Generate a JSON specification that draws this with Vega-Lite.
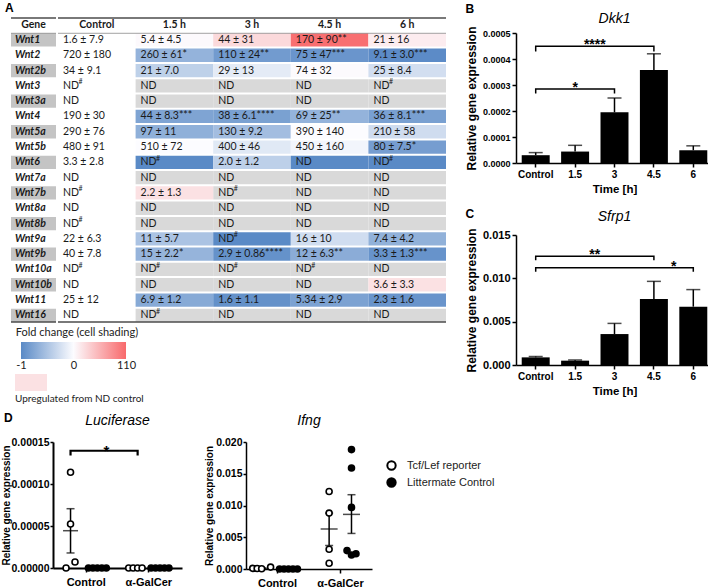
{
"$schema": "https://vega.github.io/schema/vega-lite/v6.json",
"background": "white",
"padding": {"left": 0, "top": 0, "right": 0, "bottom": 0},
"datasets": {
"table": [
{"r":"hdr","c":"Gene","t":"Gene","s":"h"},
{"r":"hdr","c":"Control","t":"Control","s":"h"},
{"r":"hdr","c":"1.5 h","t":"1.5 h","s":"h"},
{"r":"hdr","c":"3 h","t":"3 h","s":"h"},
{"r":"hdr","c":"4.5 h","t":"4.5 h","s":"h"},
{"r":"hdr","c":"6 h","t":"6 h","s":"h"},
{"r":"Wnt1","c":"Gene","t":"Wnt1","s":"g"},
{"r":"Wnt1","c":"Control","t":"1.6 ± 7.9","s":"none"},
{"r":"Wnt1","c":"1.5 h","t":"5.4 ± 4.5","s":"fc","f":2.38},
{"r":"Wnt1","c":"3 h","t":"44 ± 31","s":"fc","f":26.5},
{"r":"Wnt1","c":"4.5 h","t":"170 ± 90**","s":"fc","f":105.3},
{"r":"Wnt1","c":"6 h","t":"21 ± 16","s":"fc","f":12.1},
{"r":"Wnt2","c":"Gene","t":"Wnt2","s":"w"},
{"r":"Wnt2","c":"Control","t":"720 ± 180","s":"none"},
{"r":"Wnt2","c":"1.5 h","t":"260 ± 61*","s":"fc","f":-0.64},
{"r":"Wnt2","c":"3 h","t":"110 ± 24**","s":"fc","f":-0.85},
{"r":"Wnt2","c":"4.5 h","t":"75 ± 47***","s":"fc","f":-0.9},
{"r":"Wnt2","c":"6 h","t":"9.1 ± 3.0***","s":"fc","f":-0.99},
{"r":"Wnt2b","c":"Gene","t":"Wnt2b","s":"g"},
{"r":"Wnt2b","c":"Control","t":"34 ± 9.1","s":"none"},
{"r":"Wnt2b","c":"1.5 h","t":"21 ± 7.0","s":"fc","f":-0.38},
{"r":"Wnt2b","c":"3 h","t":"29 ± 13","s":"fc","f":-0.15},
{"r":"Wnt2b","c":"4.5 h","t":"74 ± 32","s":"fc","f":1.18},
{"r":"Wnt2b","c":"6 h","t":"25 ± 8.4","s":"fc","f":-0.26},
{"r":"Wnt3","c":"Gene","t":"Wnt3","s":"w"},
{"r":"Wnt3","c":"Control","t":"ND","n":"#","s":"none"},
{"r":"Wnt3","c":"1.5 h","t":"ND","s":"nd"},
{"r":"Wnt3","c":"3 h","t":"ND","s":"nd"},
{"r":"Wnt3","c":"4.5 h","t":"ND","s":"nd"},
{"r":"Wnt3","c":"6 h","t":"ND","n":"#","s":"nd"},
{"r":"Wnt3a","c":"Gene","t":"Wnt3a","s":"g"},
{"r":"Wnt3a","c":"Control","t":"ND","s":"none"},
{"r":"Wnt3a","c":"1.5 h","t":"ND","s":"nd"},
{"r":"Wnt3a","c":"3 h","t":"ND","s":"nd"},
{"r":"Wnt3a","c":"4.5 h","t":"ND","s":"nd"},
{"r":"Wnt3a","c":"6 h","t":"ND","s":"nd"},
{"r":"Wnt4","c":"Gene","t":"Wnt4","s":"w"},
{"r":"Wnt4","c":"Control","t":"190 ± 30","s":"none"},
{"r":"Wnt4","c":"1.5 h","t":"44 ± 8.3***","s":"fc","f":-0.77},
{"r":"Wnt4","c":"3 h","t":"38 ± 6.1****","s":"fc","f":-0.8},
{"r":"Wnt4","c":"4.5 h","t":"69 ± 25**","s":"fc","f":-0.64},
{"r":"Wnt4","c":"6 h","t":"36 ± 8.1***","s":"fc","f":-0.81},
{"r":"Wnt5a","c":"Gene","t":"Wnt5a","s":"g"},
{"r":"Wnt5a","c":"Control","t":"290 ± 76","s":"none"},
{"r":"Wnt5a","c":"1.5 h","t":"97 ± 11","s":"fc","f":-0.67},
{"r":"Wnt5a","c":"3 h","t":"130 ± 9.2","s":"fc","f":-0.55},
{"r":"Wnt5a","c":"4.5 h","t":"390 ± 140","s":"fc","f":0.34},
{"r":"Wnt5a","c":"6 h","t":"210 ± 58","s":"fc","f":-0.28},
{"r":"Wnt5b","c":"Gene","t":"Wnt5b","s":"w"},
{"r":"Wnt5b","c":"Control","t":"480 ± 91","s":"none"},
{"r":"Wnt5b","c":"1.5 h","t":"510 ± 72","s":"fc","f":0.06},
{"r":"Wnt5b","c":"3 h","t":"400 ± 46","s":"fc","f":-0.17},
{"r":"Wnt5b","c":"4.5 h","t":"450 ± 160","s":"fc","f":-0.06},
{"r":"Wnt5b","c":"6 h","t":"80 ± 7.5*","s":"fc","f":-0.83},
{"r":"Wnt6","c":"Gene","t":"Wnt6","s":"g"},
{"r":"Wnt6","c":"Control","t":"3.3 ± 2.8","s":"none"},
{"r":"Wnt6","c":"1.5 h","t":"ND","n":"#","s":"fc","f":-1},
{"r":"Wnt6","c":"3 h","t":"2.0 ± 1.2","s":"fc","f":-0.39},
{"r":"Wnt6","c":"4.5 h","t":"ND","s":"fc","f":-1},
{"r":"Wnt6","c":"6 h","t":"ND","n":"#","s":"fc","f":-1},
{"r":"Wnt7a","c":"Gene","t":"Wnt7a","s":"w"},
{"r":"Wnt7a","c":"Control","t":"ND","s":"none"},
{"r":"Wnt7a","c":"1.5 h","t":"ND","s":"nd"},
{"r":"Wnt7a","c":"3 h","t":"ND","s":"nd"},
{"r":"Wnt7a","c":"4.5 h","t":"ND","s":"nd"},
{"r":"Wnt7a","c":"6 h","t":"ND","s":"nd"},
{"r":"Wnt7b","c":"Gene","t":"Wnt7b","s":"g"},
{"r":"Wnt7b","c":"Control","t":"ND","n":"#","s":"none"},
{"r":"Wnt7b","c":"1.5 h","t":"2.2 ± 1.3","s":"up"},
{"r":"Wnt7b","c":"3 h","t":"ND","n":"#","s":"nd"},
{"r":"Wnt7b","c":"4.5 h","t":"ND","s":"nd"},
{"r":"Wnt7b","c":"6 h","t":"ND","s":"nd"},
{"r":"Wnt8a","c":"Gene","t":"Wnt8a","s":"w"},
{"r":"Wnt8a","c":"Control","t":"ND","s":"none"},
{"r":"Wnt8a","c":"1.5 h","t":"ND","s":"nd"},
{"r":"Wnt8a","c":"3 h","t":"ND","s":"nd"},
{"r":"Wnt8a","c":"4.5 h","t":"ND","s":"nd"},
{"r":"Wnt8a","c":"6 h","t":"ND","s":"nd"},
{"r":"Wnt8b","c":"Gene","t":"Wnt8b","s":"g"},
{"r":"Wnt8b","c":"Control","t":"ND","n":"#","s":"none"},
{"r":"Wnt8b","c":"1.5 h","t":"ND","s":"nd"},
{"r":"Wnt8b","c":"3 h","t":"ND","s":"nd"},
{"r":"Wnt8b","c":"4.5 h","t":"ND","s":"nd"},
{"r":"Wnt8b","c":"6 h","t":"ND","s":"nd"},
{"r":"Wnt9a","c":"Gene","t":"Wnt9a","s":"w"},
{"r":"Wnt9a","c":"Control","t":"22 ± 6.3","s":"none"},
{"r":"Wnt9a","c":"1.5 h","t":"11 ± 5.7","s":"fc","f":-0.5},
{"r":"Wnt9a","c":"3 h","t":"ND","n":"#","s":"fc","f":-1},
{"r":"Wnt9a","c":"4.5 h","t":"16 ± 10","s":"fc","f":-0.27},
{"r":"Wnt9a","c":"6 h","t":"7.4 ± 4.2","s":"fc","f":-0.66},
{"r":"Wnt9b","c":"Gene","t":"Wnt9b","s":"g"},
{"r":"Wnt9b","c":"Control","t":"40 ± 7.8","s":"none"},
{"r":"Wnt9b","c":"1.5 h","t":"15 ± 2.2*","s":"fc","f":-0.63},
{"r":"Wnt9b","c":"3 h","t":"2.9 ± 0.86****","s":"fc","f":-0.93},
{"r":"Wnt9b","c":"4.5 h","t":"12 ± 6.3**","s":"fc","f":-0.7},
{"r":"Wnt9b","c":"6 h","t":"3.3 ± 1.3***","s":"fc","f":-0.92},
{"r":"Wnt10a","c":"Gene","t":"Wnt10a","s":"w"},
{"r":"Wnt10a","c":"Control","t":"ND","n":"#","s":"none"},
{"r":"Wnt10a","c":"1.5 h","t":"ND","n":"#","s":"nd"},
{"r":"Wnt10a","c":"3 h","t":"ND","n":"#","s":"nd"},
{"r":"Wnt10a","c":"4.5 h","t":"ND","n":"#","s":"nd"},
{"r":"Wnt10a","c":"6 h","t":"ND","s":"nd"},
{"r":"Wnt10b","c":"Gene","t":"Wnt10b","s":"g"},
{"r":"Wnt10b","c":"Control","t":"ND","s":"none"},
{"r":"Wnt10b","c":"1.5 h","t":"ND","s":"nd"},
{"r":"Wnt10b","c":"3 h","t":"ND","s":"nd"},
{"r":"Wnt10b","c":"4.5 h","t":"ND","s":"nd"},
{"r":"Wnt10b","c":"6 h","t":"3.6 ± 3.3","s":"up"},
{"r":"Wnt11","c":"Gene","t":"Wnt11","s":"w"},
{"r":"Wnt11","c":"Control","t":"25 ± 12","s":"none"},
{"r":"Wnt11","c":"1.5 h","t":"6.9 ± 1.2","s":"fc","f":-0.72},
{"r":"Wnt11","c":"3 h","t":"1.6 ± 1.1","s":"fc","f":-0.94},
{"r":"Wnt11","c":"4.5 h","t":"5.34 ± 2.9","s":"fc","f":-0.79},
{"r":"Wnt11","c":"6 h","t":"2.3 ± 1.6","s":"fc","f":-0.91},
{"r":"Wnt16","c":"Gene","t":"Wnt16","s":"g"},
{"r":"Wnt16","c":"Control","t":"ND","s":"none"},
{"r":"Wnt16","c":"1.5 h","t":"ND","n":"#","s":"nd"},
{"r":"Wnt16","c":"3 h","t":"ND","s":"nd"},
{"r":"Wnt16","c":"4.5 h","t":"ND","s":"nd"},
{"r":"Wnt16","c":"6 h","t":"ND","s":"nd"}
],
"dkk1": [
{"t":"Control","m":0.00003,"hi":0.00004},
{"t":"1.5","m":0.000044,"hi":0.000068},
{"t":"3","m":0.000195,"hi":0.00025},
{"t":"4.5","m":0.000358,"hi":0.00042},
{"t":"6","m":0.000049,"hi":0.000066}
],
"brkB": [
{"id":1,"t":"Control","v":0.000429,"o":1},
{"id":1,"t":"Control","v":0.000449,"o":2},
{"id":1,"t":"4.5","v":0.000449,"o":3},
{"id":1,"t":"4.5","v":0.000429,"o":4},
{"id":2,"t":"Control","v":0.000267,"o":1},
{"id":2,"t":"Control","v":0.000285,"o":2},
{"id":2,"t":"3","v":0.000285,"o":3},
{"id":2,"t":"3","v":0.000267,"o":4}
],
"starB": [
{"t":"1.5","v":0.000449,"s":"****","p":"b"},
{"t":"1.5","v":0.000285,"s":"*","p":"o"}
],
"sfrp1": [
{"t":"Control","m":0.00088,"hi":0.00098},
{"t":"1.5","m":0.0005,"hi":0.00058},
{"t":"3","m":0.00357,"hi":0.0048},
{"t":"4.5","m":0.00762,"hi":0.00965},
{"t":"6","m":0.00673,"hi":0.0087}
],
"brkC": [
{"id":1,"t":"Control","v":0.0121,"o":1},
{"id":1,"t":"Control","v":0.01256,"o":2},
{"id":1,"t":"4.5","v":0.01256,"o":3},
{"id":1,"t":"4.5","v":0.0121,"o":4},
{"id":2,"t":"Control","v":0.01075,"o":1},
{"id":2,"t":"Control","v":0.01121,"o":2},
{"id":2,"t":"6","v":0.01121,"o":3},
{"id":2,"t":"6","v":0.01075,"o":4}
],
"starC": [
{"t":"1.5","v":0.01256,"s":"**","p":"b"},
{"t":"4.5","v":0.01121,"s":"*","p":"b"}
],
"luc": [
{"tr":"Control","g":"Tcf/Lef reporter","sl":"T2","v":0},
{"tr":"Control","g":"Tcf/Lef reporter","sl":"T4","v":0.0000072},
{"tr":"Control","g":"Tcf/Lef reporter","sl":"T3","v":0.0000524},
{"tr":"Control","g":"Tcf/Lef reporter","sl":"T3","v":0.000114},
{"tr":"Control","g":"Littermate Control","sl":"L1","v":0},
{"tr":"Control","g":"Littermate Control","sl":"L2","v":0},
{"tr":"Control","g":"Littermate Control","sl":"L3","v":0},
{"tr":"Control","g":"Littermate Control","sl":"L4","v":0},
{"tr":"Control","g":"Littermate Control","sl":"L5","v":0},
{"tr":"α-GalCer","g":"Tcf/Lef reporter","sl":"T2","v":0},
{"tr":"α-GalCer","g":"Tcf/Lef reporter","sl":"T3","v":0},
{"tr":"α-GalCer","g":"Tcf/Lef reporter","sl":"T4","v":0},
{"tr":"α-GalCer","g":"Tcf/Lef reporter","sl":"T5","v":0},
{"tr":"α-GalCer","g":"Littermate Control","sl":"L1","v":0},
{"tr":"α-GalCer","g":"Littermate Control","sl":"L2","v":0},
{"tr":"α-GalCer","g":"Littermate Control","sl":"L3","v":0},
{"tr":"α-GalCer","g":"Littermate Control","sl":"L4","v":0},
{"tr":"α-GalCer","g":"Littermate Control","sl":"L5","v":0}
],
"lucStat": [
{"tr":"Control","sl":"T3","mean":0.0000444,"lo":0.0000179,"hi":0.0000706},
{"tr":"Control","sl":"L3","mean":0,"lo":0,"hi":0},
{"tr":"α-GalCer","sl":"T3","mean":0,"lo":0,"hi":0},
{"tr":"α-GalCer","sl":"L3","mean":0,"lo":0,"hi":0}
],
"lucBrk": [
{"id":1,"tr":"Control","sl":"T3","v":0.000134,"o":1},
{"id":1,"tr":"Control","sl":"T3","v":0.0001396,"o":2},
{"id":1,"tr":"α-GalCer","sl":"T4","v":0.0001396,"o":3},
{"id":1,"tr":"α-GalCer","sl":"T4","v":0.000134,"o":4}
],
"lucStar": [
{"tr":"Control","sl":"L5","v":0.0001396,"s":"*"}
],
"ifng": [
{"tr":"Control","g":"Tcf/Lef reporter","sl":"T1","v":0.0001},
{"tr":"Control","g":"Tcf/Lef reporter","sl":"T2","v":0.00008},
{"tr":"Control","g":"Tcf/Lef reporter","sl":"T3","v":0.00005},
{"tr":"Control","g":"Tcf/Lef reporter","sl":"T5","v":0.0003},
{"tr":"Control","g":"Littermate Control","sl":"L1","v":0},
{"tr":"Control","g":"Littermate Control","sl":"L2","v":0},
{"tr":"Control","g":"Littermate Control","sl":"L3","v":0},
{"tr":"Control","g":"Littermate Control","sl":"L4","v":0},
{"tr":"Control","g":"Littermate Control","sl":"L5","v":0},
{"tr":"α-GalCer","g":"Tcf/Lef reporter","sl":"T4","v":0.0122},
{"tr":"α-GalCer","g":"Tcf/Lef reporter","sl":"T4","v":0.0088},
{"tr":"α-GalCer","g":"Tcf/Lef reporter","sl":"T4","v":0.0031},
{"tr":"α-GalCer","g":"Tcf/Lef reporter","sl":"T4","v":0.0009},
{"tr":"α-GalCer","g":"Littermate Control","sl":"L3","v":0.0188},
{"tr":"α-GalCer","g":"Littermate Control","sl":"L3","v":0.0159},
{"tr":"α-GalCer","g":"Littermate Control","sl":"L3","v":0.0097},
{"tr":"α-GalCer","g":"Littermate Control","sl":"L2","v":0.0029},
{"tr":"α-GalCer","g":"Littermate Control","sl":"L3","v":0.0022},
{"tr":"α-GalCer","g":"Littermate Control","sl":"L4","v":0.0024}
],
"ifngStat": [
{"tr":"Control","sl":"T3","mean":0.00011,"lo":0.00005,"hi":0.00017},
{"tr":"Control","sl":"L3","mean":0,"lo":0,"hi":0},
{"tr":"α-GalCer","sl":"T4","mean":0.0063,"lo":0.0037,"hi":0.0088},
{"tr":"α-GalCer","sl":"L3","mean":0.0086,"lo":0.0056,"hi":0.0117}
]
},
"columns": 1,
"spacing": 8,
"concat": [
{
"columns": 2,
"spacing": 18,
"concat": [
{
"columns": 1,
"spacing": 1,
"concat": [
{"width": 1, "height": 1, "data": {"values": []}, "mark": "point"},
{
"columns": 1,
"spacing": 4,
"concat": [
{
"title": {"text": "A", "anchor": "start", "fontSize": 12, "fontWeight": "bold", "offset": 2, "dx": 5},
"columns": 3,
"spacing": 0,
"concat": [
{"width": 10, "height": 1, "data": {"values": []}, "mark": "point"},
{
"width": 45, "height": 306,
"data": {"name": "table"},
"layer": [
{"transform": [{"filter": "datum.c == 'Gene' && datum.s == 'g'"}],
 "mark": {"type": "rect", "fill": "#c4c4c4"},
 "encoding": {
  "x": {"field": "c", "type": "nominal", "scale": {"domain": ["Gene"], "paddingInner": 0, "paddingOuter": 0}, "axis": null},
  "y": {"field": "r", "type": "nominal", "sort": null, "scale": {"domain": ["hdr","Wnt1","Wnt2","Wnt2b","Wnt3","Wnt3a","Wnt4","Wnt5a","Wnt5b","Wnt6","Wnt7a","Wnt7b","Wnt8a","Wnt8b","Wnt9a","Wnt9b","Wnt10a","Wnt10b","Wnt11","Wnt16"], "paddingInner": 0.13, "paddingOuter": 0.065}, "axis": null}}},
{"transform": [{"filter": "datum.c == 'Gene' && datum.s != 'h'"}],
 "mark": {"type": "text", "align": "left", "dx": 4, "font": "Lato", "fontSize": 10.5, "fontWeight": "bold", "fontStyle": "italic", "color": "#1a1a1a"},
 "encoding": {
  "x": {"field": "c", "type": "nominal", "bandPosition": 0, "axis": null},
  "y": {"field": "r", "type": "nominal", "sort": null, "axis": null},
  "text": {"field": "t"}}},
{"transform": [{"filter": "datum.c == 'Gene' && datum.s == 'h'"}],
 "mark": {"type": "text", "font": "Lato", "fontSize": 10.5, "fontWeight": "bold", "color": "#1a1a1a"},
 "encoding": {
  "x": {"field": "c", "type": "nominal", "axis": null},
  "y": {"field": "r", "type": "nominal", "sort": null, "axis": null},
  "text": {"field": "t"}}},
{"data": {"values": [{"k": 1}]}, "mark": {"type": "rule", "color": "#4d4d4d", "strokeWidth": 1.6},
 "encoding": {"y": {"datum": "hdr", "type": "nominal", "bandPosition": 0, "axis": null}}},
{"data": {"values": [{"k": 1}]}, "mark": {"type": "rule", "color": "#8a8a8a", "strokeWidth": 0.8},
 "encoding": {"y": {"datum": "Wnt1", "type": "nominal", "bandPosition": 0, "axis": null}}},
{"data": {"values": [{"k": 1}]}, "mark": {"type": "rule", "color": "#4d4d4d", "strokeWidth": 1.3},
 "encoding": {"y": {"datum": "Wnt16", "type": "nominal", "bandPosition": 1, "axis": null}}}
]
},
{
"width": 388, "height": 306,
"data": {"name": "table"},
"layer": [
{"transform": [{"filter": "datum.c != 'Gene' && datum.s == 'nd'"}],
 "mark": {"type": "rect", "fill": "#d9d9d9"},
 "encoding": {
  "x": {"field": "c", "type": "nominal", "sort": null, "scale": {"domain": ["Control","1.5 h","3 h","4.5 h","6 h"], "paddingInner": 0, "paddingOuter": 0}, "axis": null},
  "y": {"field": "r", "type": "nominal", "sort": null, "scale": {"domain": ["hdr","Wnt1","Wnt2","Wnt2b","Wnt3","Wnt3a","Wnt4","Wnt5a","Wnt5b","Wnt6","Wnt7a","Wnt7b","Wnt8a","Wnt8b","Wnt9a","Wnt9b","Wnt10a","Wnt10b","Wnt11","Wnt16"], "paddingInner": 0.13, "paddingOuter": 0.065}, "axis": null}}},
{"transform": [{"filter": "datum.c != 'Gene' && datum.s == 'up'"}],
 "mark": {"type": "rect", "fill": "#fbe1e3"},
 "encoding": {
  "x": {"field": "c", "type": "nominal", "sort": null, "axis": null},
  "y": {"field": "r", "type": "nominal", "sort": null, "axis": null}}},
{"transform": [{"filter": "datum.c != 'Gene' && datum.s == 'fc'"}],
 "mark": {"type": "rect"},
 "encoding": {
  "x": {"field": "c", "type": "nominal", "sort": null, "axis": null},
  "y": {"field": "r", "type": "nominal", "sort": null, "axis": null},
  "color": {"field": "f", "type": "quantitative", "scale": {"domain": [-1, 0, 110], "range": ["#5A8AC6", "#FCFCFF", "#F8696B"], "interpolate": "rgb"}, "legend": null}}},
{"transform": [{"filter": "datum.c != 'Gene' && datum.s != 'h'"}],
 "mark": {"type": "text", "align": "left", "dx": 5, "font": "Lato", "fontSize": 10.5, "color": "#1a1a1a"},
 "encoding": {
  "x": {"field": "c", "type": "nominal", "sort": null, "bandPosition": 0, "axis": null},
  "y": {"field": "r", "type": "nominal", "sort": null, "axis": null},
  "text": {"field": "t"}}},
{"transform": [{"filter": "datum.c != 'Gene' && datum.n == '#'"}],
 "mark": {"type": "text", "align": "left", "dx": 20.5, "dy": -3.5, "font": "Lato", "fontSize": 7, "color": "#1a1a1a"},
 "encoding": {
  "x": {"field": "c", "type": "nominal", "sort": null, "bandPosition": 0, "axis": null},
  "y": {"field": "r", "type": "nominal", "sort": null, "axis": null},
  "text": {"field": "n"}}},
{"transform": [{"filter": "datum.c != 'Gene' && datum.s == 'h'"}],
 "mark": {"type": "text", "font": "Lato", "fontSize": 10.5, "fontWeight": "bold", "color": "#1a1a1a"},
 "encoding": {
  "x": {"field": "c", "type": "nominal", "sort": null, "axis": null},
  "y": {"field": "r", "type": "nominal", "sort": null, "axis": null},
  "text": {"field": "t"}}},
{"data": {"values": [{"k": 1}]}, "mark": {"type": "rule", "color": "#4d4d4d", "strokeWidth": 1.6},
 "encoding": {"y": {"datum": "hdr", "type": "nominal", "bandPosition": 0, "axis": null}}},
{"data": {"values": [{"k": 1}]}, "mark": {"type": "rule", "color": "#8a8a8a", "strokeWidth": 0.8},
 "encoding": {"y": {"datum": "Wnt1", "type": "nominal", "bandPosition": 0, "axis": null}}},
{"data": {"values": [{"k": 1}]}, "mark": {"type": "rule", "color": "#4d4d4d", "strokeWidth": 1.3},
 "encoding": {"y": {"datum": "Wnt16", "type": "nominal", "bandPosition": 1, "axis": null}}}
]
}
]
},
{
"columns": 2,
"spacing": 0,
"concat": [
{"width": 15, "height": 1, "data": {"values": []}, "mark": "point"},
{
"title": {"text": "Fold change (cell shading)", "anchor": "start", "font": "Lato", "fontSize": 11, "fontWeight": "normal", "color": "#222222", "offset": 4},
"width": 105, "height": 17,
"data": {"values": [{"k": 1}]},
"mark": {"type": "rect", "fill": {"gradient": "linear", "stops": [{"offset": 0, "color": "#5A8AC6"}, {"offset": 0.5, "color": "#FCFCFF"}, {"offset": 1, "color": "#F8696B"}]}},
"encoding": {
 "x": {"datum": "-1", "type": "nominal", "scale": {"type": "point", "domain": ["-1", "0", "110"], "padding": 0}, "axis": {"domain": false, "ticks": false, "labelAngle": 0, "labelFont": "Lato", "labelFontSize": 11, "labelFontWeight": "normal", "labelColor": "#222222", "labelPadding": 0, "title": null}},
 "x2": {"datum": "110"}
}
}
]
},
{
"columns": 2,
"spacing": 0,
"concat": [
{"width": 15, "height": 1, "data": {"values": []}, "mark": "point"},
{
"title": {"text": "Upregulated from ND control", "orient": "bottom", "anchor": "start", "font": "Lato", "fontSize": 10, "fontWeight": "normal", "color": "#222222", "offset": 3},
"width": 32, "height": 17,
"data": {"values": [{"k": 1}]},
"mark": {"type": "rect", "fill": "#fbe1e3"},
"encoding": {
 "x": {"datum": 0, "type": "quantitative", "scale": {"domain": [0, 1]}, "axis": null},
 "x2": {"datum": 1}
}
}
]
}
]
}
]
},
{
"columns": 1,
"spacing": 1,
"concat": [
{"width": 1, "height": 1, "data": {"values": []}, "mark": "point"},
{
"columns": 1,
"spacing": 12,
"concat": [
{
"title": {"text": "B", "anchor": "start", "fontSize": 12, "fontWeight": "bold", "offset": -4},
"columns": 1,
"concat": [
{
"width": 197, "height": 130,
"title": {"text": "Dkk1", "fontStyle": "italic", "fontWeight": "normal", "fontSize": 14, "offset": 0},
"layer": [
{"data": {"name": "dkk1"}, "mark": {"type": "bar", "color": "black"},
 "encoding": {
  "x": {"field": "t", "type": "nominal", "sort": null, "scale": {"domain": ["Control","1.5","3","4.5","6"], "paddingInner": 0.29, "paddingOuter": 0.145}, "axis": {"title": "Time [h]", "labelAngle": 0, "labelFontSize": 10, "titleFontSize": 11.5}},
  "y": {"field": "m", "type": "quantitative", "scale": {"domain": [0, 0.0005], "nice": false}, "axis": {"title": "Relative gene expression", "values": [0, 0.0001, 0.0002, 0.0003, 0.0004, 0.0005], "format": ".4f", "labelFontSize": 9, "titleFontSize": 12, "labelOverlap": false}}}},
{"data": {"name": "dkk1"}, "mark": {"type": "rule", "color": "black", "strokeWidth": 1.5},
 "encoding": {"x": {"field": "t", "type": "nominal", "sort": null, "axis": {"title": "Time [h]", "labelAngle": 0, "labelFontSize": 10, "titleFontSize": 11.5}}, "y": {"field": "m", "type": "quantitative", "axis": {"title": "Relative gene expression", "values": [0, 0.0001, 0.0002, 0.0003, 0.0004, 0.0005], "format": ".4f", "labelFontSize": 9, "titleFontSize": 12, "labelOverlap": false}}, "y2": {"field": "hi"}}},
{"data": {"name": "dkk1"}, "mark": {"type": "tick", "color": "black", "thickness": 1.5, "size": 14},
 "encoding": {"x": {"field": "t", "type": "nominal", "sort": null, "axis": {"title": "Time [h]", "labelAngle": 0, "labelFontSize": 10, "titleFontSize": 11.5}}, "y": {"field": "hi", "type": "quantitative", "axis": {"title": "Relative gene expression", "values": [0, 0.0001, 0.0002, 0.0003, 0.0004, 0.0005], "format": ".4f", "labelFontSize": 9, "titleFontSize": 12, "labelOverlap": false}}}},
{"data": {"name": "brkB"}, "mark": {"type": "line", "color": "black", "strokeWidth": 1.5},
 "encoding": {"x": {"field": "t", "type": "nominal", "sort": null, "axis": {"title": "Time [h]", "labelAngle": 0, "labelFontSize": 10, "titleFontSize": 11.5}}, "y": {"field": "v", "type": "quantitative", "axis": {"title": "Relative gene expression", "values": [0, 0.0001, 0.0002, 0.0003, 0.0004, 0.0005], "format": ".4f", "labelFontSize": 9, "titleFontSize": 12, "labelOverlap": false}}, "detail": {"field": "id"}, "order": {"field": "o"}}},
{"data": {"name": "starB"}, "transform": [{"filter": "datum.p == 'o'"}], "mark": {"type": "text", "fontSize": 14, "fontWeight": "bold", "dy": 3, "baseline": "alphabetic", "color": "black"},
 "encoding": {"x": {"field": "t", "type": "nominal", "sort": null, "axis": {"title": "Time [h]", "labelAngle": 0, "labelFontSize": 10, "titleFontSize": 11.5}}, "y": {"field": "v", "type": "quantitative", "axis": {"title": "Relative gene expression", "values": [0, 0.0001, 0.0002, 0.0003, 0.0004, 0.0005], "format": ".4f", "labelFontSize": 9, "titleFontSize": 12, "labelOverlap": false}}, "text": {"field": "s"}}},
{"data": {"name": "starB"}, "transform": [{"filter": "datum.p == 'b'"}], "mark": {"type": "text", "fontSize": 14, "fontWeight": "bold", "dy": 3, "dx": 19.7, "baseline": "alphabetic", "color": "black"},
 "encoding": {"x": {"field": "t", "type": "nominal", "sort": null, "axis": {"title": "Time [h]", "labelAngle": 0, "labelFontSize": 10, "titleFontSize": 11.5}}, "y": {"field": "v", "type": "quantitative", "axis": {"title": "Relative gene expression", "values": [0, 0.0001, 0.0002, 0.0003, 0.0004, 0.0005], "format": ".4f", "labelFontSize": 9, "titleFontSize": 12, "labelOverlap": false}}, "text": {"field": "s"}}}
]
}
]
},
{
"title": {"text": "C", "anchor": "start", "fontSize": 12, "fontWeight": "bold", "offset": -11},
"columns": 1,
"concat": [
{
"width": 197, "height": 130,
"title": {"text": "Sfrp1", "fontStyle": "italic", "fontWeight": "normal", "fontSize": 14, "offset": 4},
"layer": [
{"data": {"name": "sfrp1"}, "mark": {"type": "bar", "color": "black"},
 "encoding": {
  "x": {"field": "t", "type": "nominal", "sort": null, "scale": {"domain": ["Control","1.5","3","4.5","6"], "paddingInner": 0.29, "paddingOuter": 0.145}, "axis": {"title": "Time [h]", "labelAngle": 0, "labelFontSize": 10, "titleFontSize": 11.5}},
  "y": {"field": "m", "type": "quantitative", "scale": {"domain": [0, 0.015], "nice": false}, "axis": {"title": "Relative gene expression", "values": [0, 0.005, 0.01, 0.015], "format": ".3f", "labelFontSize": 11, "titleFontSize": 12}}}},
{"data": {"name": "sfrp1"}, "mark": {"type": "rule", "color": "black", "strokeWidth": 1.5},
 "encoding": {"x": {"field": "t", "type": "nominal", "sort": null}, "y": {"field": "m", "type": "quantitative"}, "y2": {"field": "hi"}}},
{"data": {"name": "sfrp1"}, "mark": {"type": "tick", "color": "black", "thickness": 1.5, "size": 14},
 "encoding": {"x": {"field": "t", "type": "nominal", "sort": null}, "y": {"field": "hi", "type": "quantitative"}}},
{"data": {"name": "brkC"}, "mark": {"type": "line", "color": "black", "strokeWidth": 1.5},
 "encoding": {"x": {"field": "t", "type": "nominal", "sort": null}, "y": {"field": "v", "type": "quantitative"}, "detail": {"field": "id"}, "order": {"field": "o"}}},
{"data": {"name": "starC"}, "transform": [{"filter": "datum.p == 'b'"}], "mark": {"type": "text", "fontSize": 14, "fontWeight": "bold", "dy": 3, "dx": 19.7, "baseline": "alphabetic", "color": "black"},
 "encoding": {"x": {"field": "t", "type": "nominal", "sort": null}, "y": {"field": "v", "type": "quantitative"}, "text": {"field": "s"}}}
]
}
]
}
]
}
]
}
]
},
{
"columns": 2,
"spacing": 0,
"concat": [
{"width": 1, "height": 1, "data": {"values": []}, "mark": "point"},
{
"title": {"text": "D", "anchor": "start", "fontSize": 12, "fontWeight": "bold", "offset": -11, "dx": 3},
"columns": 2,
"spacing": 22,
"resolve": {"scale": {"fill": "independent"}, "legend": {"fill": "independent"}},
"concat": [
{
"width": 129, "height": 126,
"title": {"text": "Luciferase", "fontStyle": "italic", "fontWeight": "normal", "fontSize": 14, "offset": 9},
"layer": [
{"data": {"name": "lucBrk"}, "mark": {"type": "line", "color": "black", "strokeWidth": 2.2},
 "encoding": {
  "x": {"field": "tr", "type": "nominal", "sort": null, "scale": {"domain": ["Control", "α-GalCer"], "paddingInner": 0, "paddingOuter": 0.03}, "axis": {"title": null, "labelAngle": 0, "labelFontSize": 11, "labelPadding": 4, "domainWidth": 2}},
  "xOffset": {"field": "sl", "type": "nominal", "scale": {"domain": ["T1","T2","T3","T4","T5","G","L1","L2","L3","L4","L5","L6"], "paddingInner": 0, "paddingOuter": 1.5}},
  "y": {"field": "v", "type": "quantitative", "scale": {"domain": [0, 0.00015], "nice": false}, "axis": {"title": "Relative gene expression", "titleFontSize": 10, "titlePadding": 0, "labelPadding": 1, "tickSize": 3, "values": [0, 0.00005, 0.0001, 0.00015], "format": ".5f", "labelFontSize": 10.5, "domainWidth": 2}},
  "detail": {"field": "id"}, "order": {"field": "o"}}},
{"data": {"name": "lucStar"}, "mark": {"type": "text", "fontSize": 15, "fontWeight": "bold", "dy": 5, "baseline": "alphabetic", "color": "black"},
 "encoding": {"x": {"field": "tr", "type": "nominal", "sort": null}, "xOffset": {"field": "sl", "type": "nominal"}, "y": {"field": "v", "type": "quantitative"}, "text": {"field": "s"}}},
{"data": {"name": "lucStat"}, "mark": {"type": "rule", "color": "black", "strokeWidth": 1.5},
 "encoding": {"x": {"field": "tr", "type": "nominal", "sort": null}, "xOffset": {"field": "sl", "type": "nominal"}, "y": {"field": "lo", "type": "quantitative"}, "y2": {"field": "hi"}}},
{"data": {"name": "lucStat"}, "mark": {"type": "tick", "color": "black", "thickness": 1.5, "size": 8},
 "encoding": {"x": {"field": "tr", "type": "nominal", "sort": null}, "xOffset": {"field": "sl", "type": "nominal"}, "y": {"field": "lo", "type": "quantitative"}}},
{"data": {"name": "lucStat"}, "mark": {"type": "tick", "color": "black", "thickness": 1.5, "size": 8},
 "encoding": {"x": {"field": "tr", "type": "nominal", "sort": null}, "xOffset": {"field": "sl", "type": "nominal"}, "y": {"field": "hi", "type": "quantitative"}}},
{"data": {"name": "lucStat"}, "mark": {"type": "tick", "color": "black", "thickness": 1.5, "size": 15},
 "encoding": {"x": {"field": "tr", "type": "nominal", "sort": null}, "xOffset": {"field": "sl", "type": "nominal"}, "y": {"field": "mean", "type": "quantitative"}}},
{"data": {"name": "luc"}, "mark": {"type": "point", "shape": "circle", "filled": true, "stroke": "black", "strokeWidth": 1.6, "size": 36, "opacity": 1},
 "encoding": {"x": {"field": "tr", "type": "nominal", "sort": null}, "xOffset": {"field": "sl", "type": "nominal"}, "y": {"field": "v", "type": "quantitative"},
  "fill": {"field": "g", "type": "nominal", "scale": {"domain": ["Tcf/Lef reporter", "Littermate Control"], "range": ["white", "black"]}, "legend": null}}}
]
},
{
"width": 126, "height": 127,
"title": {"text": "Ifng", "fontStyle": "italic", "fontWeight": "normal", "fontSize": 14, "offset": 9},
"layer": [
{"data": {"name": "ifngStat"}, "mark": {"type": "rule", "color": "black", "strokeWidth": 1.5},
 "encoding": {
  "x": {"field": "tr", "type": "nominal", "sort": null, "scale": {"domain": ["Control", "α-GalCer"], "paddingInner": 0, "paddingOuter": 0}, "axis": {"title": null, "labelAngle": 0, "labelFontSize": 11, "labelPadding": 4}},
  "xOffset": {"field": "sl", "type": "nominal", "scale": {"domain": ["T1","T2","T3","T4","T5","G","L1","L2","L3","L4","L5","L6"], "paddingInner": 0, "paddingOuter": 1.5}},
  "y": {"field": "lo", "type": "quantitative", "scale": {"domain": [0, 0.02], "nice": false}, "axis": {"title": "Relative gene expression", "titleFontSize": 10, "titlePadding": 1, "labelPadding": 1, "tickSize": 3, "values": [0, 0.005, 0.01, 0.015, 0.02], "format": ".3f", "labelFontSize": 10.5, "labelOverlap": false}},
  "y2": {"field": "hi"}}},
{"data": {"name": "ifngStat"}, "mark": {"type": "tick", "color": "black", "thickness": 1.5, "size": 8},
 "encoding": {"x": {"field": "tr", "type": "nominal", "sort": null}, "xOffset": {"field": "sl", "type": "nominal"}, "y": {"field": "lo", "type": "quantitative", "axis": {"title": "Relative gene expression", "titleFontSize": 10, "titlePadding": 1, "labelPadding": 1, "tickSize": 3, "values": [0, 0.005, 0.01, 0.015, 0.02], "format": ".3f", "labelFontSize": 10.5, "labelOverlap": false}}}},
{"data": {"name": "ifngStat"}, "mark": {"type": "tick", "color": "black", "thickness": 1.5, "size": 8},
 "encoding": {"x": {"field": "tr", "type": "nominal", "sort": null}, "xOffset": {"field": "sl", "type": "nominal"}, "y": {"field": "hi", "type": "quantitative", "axis": {"title": "Relative gene expression", "titleFontSize": 10, "titlePadding": 1, "labelPadding": 1, "tickSize": 3, "values": [0, 0.005, 0.01, 0.015, 0.02], "format": ".3f", "labelFontSize": 10.5, "labelOverlap": false}}}},
{"data": {"name": "ifngStat"}, "mark": {"type": "tick", "color": "black", "thickness": 1.5, "size": 17},
 "encoding": {"x": {"field": "tr", "type": "nominal", "sort": null}, "xOffset": {"field": "sl", "type": "nominal"}, "y": {"field": "mean", "type": "quantitative", "axis": {"title": "Relative gene expression", "titleFontSize": 10, "titlePadding": 1, "labelPadding": 1, "tickSize": 3, "values": [0, 0.005, 0.01, 0.015, 0.02], "format": ".3f", "labelFontSize": 10.5, "labelOverlap": false}}}},
{"data": {"name": "ifng"}, "mark": {"type": "point", "shape": "circle", "filled": true, "stroke": "black", "strokeWidth": 1.6, "size": 36, "opacity": 1},
 "encoding": {"x": {"field": "tr", "type": "nominal", "sort": null}, "xOffset": {"field": "sl", "type": "nominal"}, "y": {"field": "v", "type": "quantitative", "axis": {"title": "Relative gene expression", "titleFontSize": 10, "titlePadding": 1, "labelPadding": 1, "tickSize": 3, "values": [0, 0.005, 0.01, 0.015, 0.02], "format": ".3f", "labelFontSize": 10.5, "labelOverlap": false}},
  "fill": {"field": "g", "type": "nominal", "scale": {"domain": ["Tcf/Lef reporter", "Littermate Control"], "range": ["white", "black"]},
   "legend": {"orient": "none", "legendX": 140, "legendY": 18, "title": null, "labelFont": "Liberation Sans", "labelFontSize": 11, "labelFontWeight": "normal", "labelColor": "#222222", "symbolType": "circle", "symbolSize": 70, "symbolStrokeColor": "black", "symbolStrokeWidth": 2, "rowPadding": 0, "labelOffset": 10}}}}
]
}
]
}
]
}
],
"config": {
"view": {"stroke": null},
"font": "Liberation Sans",
"axis": {"domainColor": "black", "domainWidth": 1.5, "tickColor": "black", "tickWidth": 1.5, "tickSize": 4, "labelColor": "black", "labelFont": "Liberation Sans", "labelFontWeight": "bold", "labelFontSize": 10, "titleColor": "black", "titleFont": "Liberation Sans", "titleFontWeight": "bold", "titleFontSize": 11, "grid": false, "labelPadding": 2, "titlePadding": 4, "labelOverlap": false},
"title": {"font": "Liberation Sans", "color": "black"}
}
}
